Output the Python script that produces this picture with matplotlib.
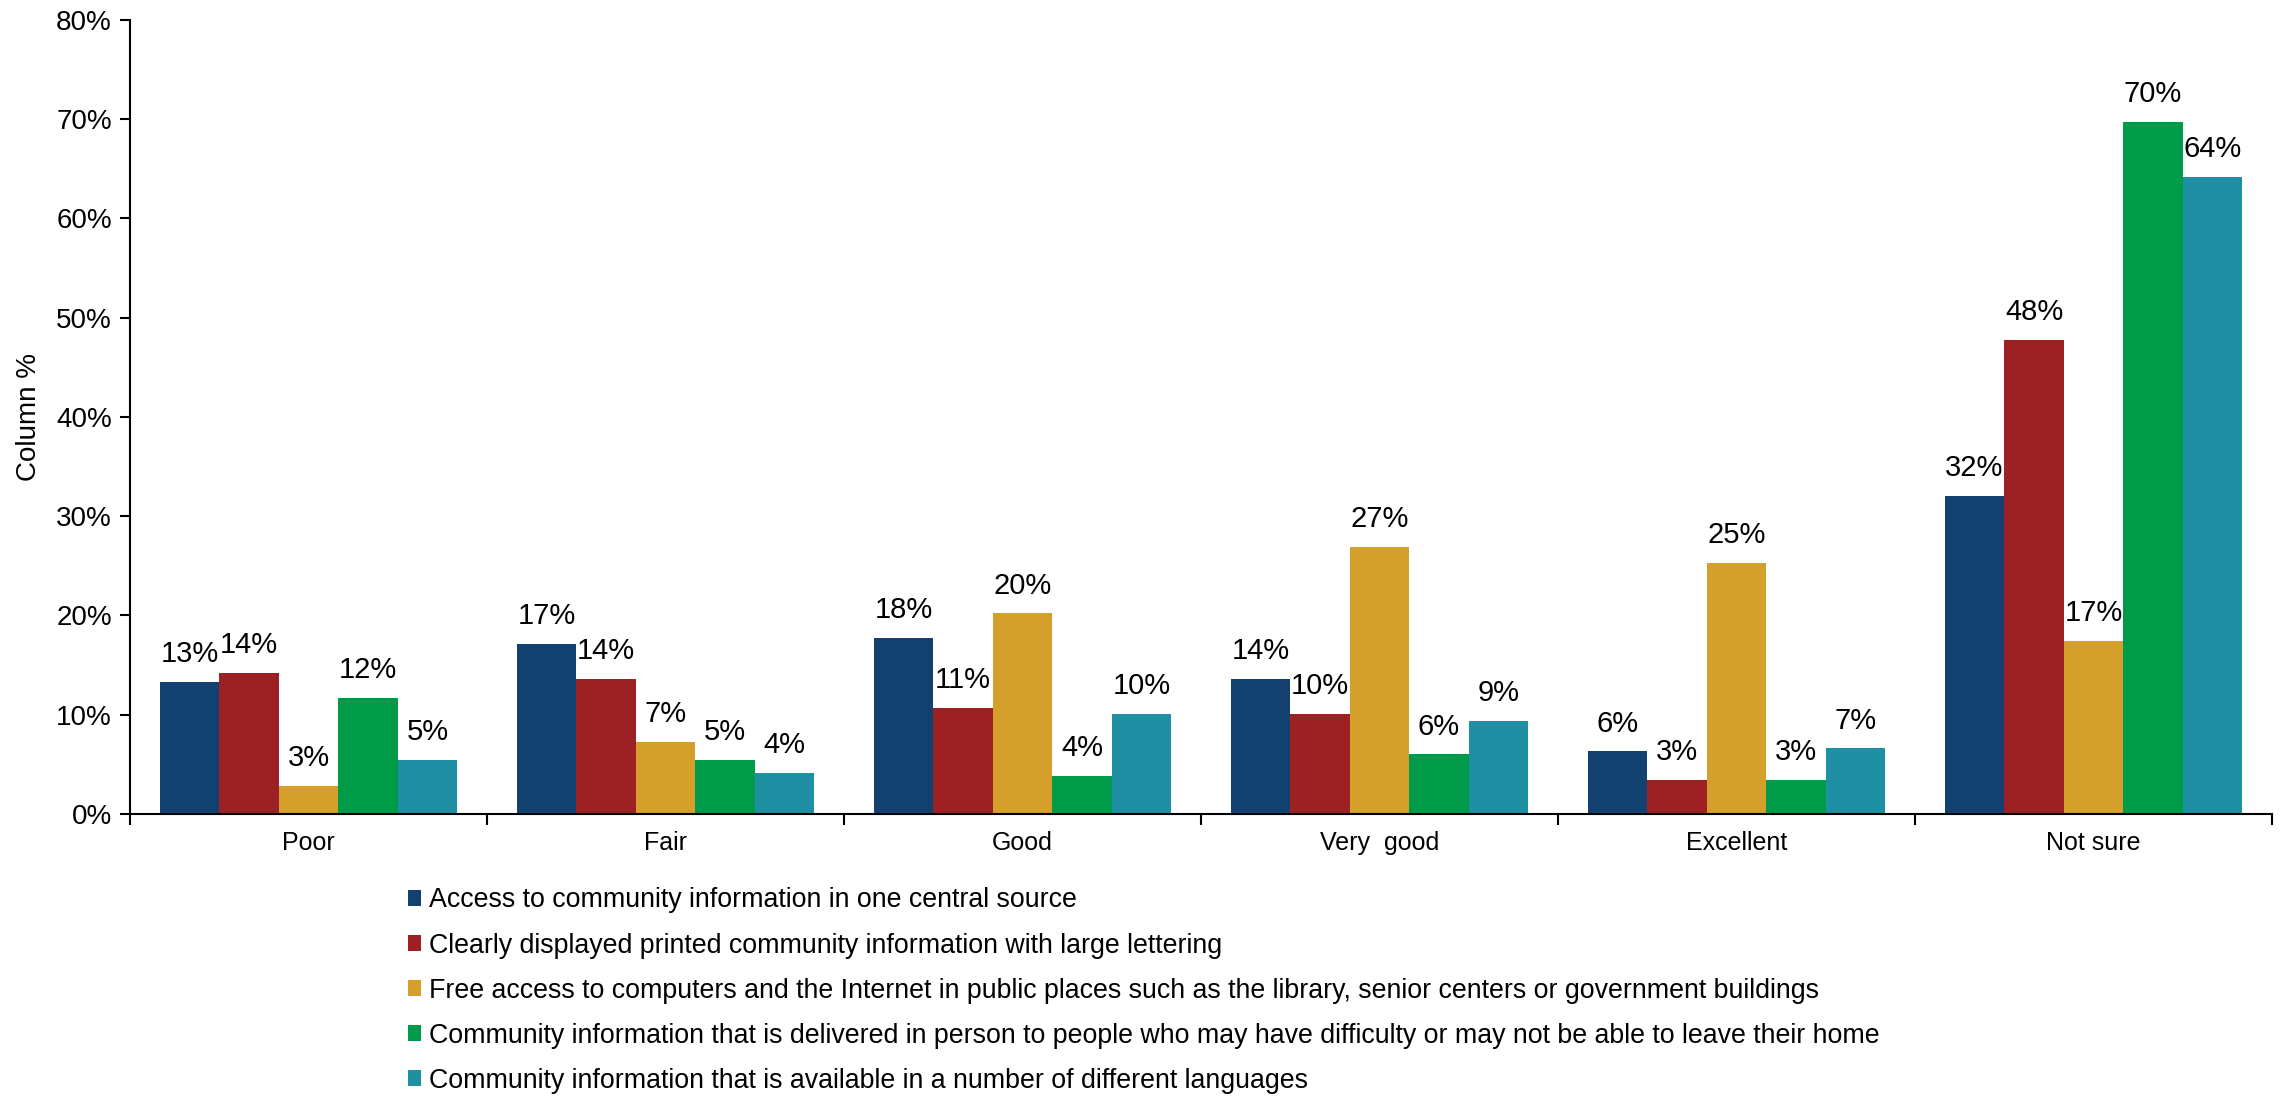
import matplotlib.pyplot as plt
from matplotlib.patches import Patch
import numpy as np

plt.rcParams['font.family'] = ['Liberation Sans', 'DejaVu Sans']

categories = ['Poor', 'Fair', 'Good', 'Very  good', 'Excellent', 'Not sure']
series = [
    'Access to community information in one central source',
    'Clearly displayed printed community information with large lettering',
    'Free access to computers and the Internet in public places such as the library, senior centers or government buildings',
    'Community information that is delivered in person to people who may have difficulty or may not be able to leave their home',
    'Community information that is available in a number of different languages',
]
central = [13.3, 17.1, 17.7, 13.6, 6.3, 32.0]
printed = [14.2, 13.6, 10.7, 10.1, 3.4, 47.8]
computers = [2.8, 7.25, 20.2, 26.9, 25.3, 17.4]
in_person = [11.7, 5.4, 3.8, 6.0, 3.4, 69.7]
languages = [5.4, 4.1, 10.1, 9.4, 6.6, 64.2]
colors = ['#12416F', '#9C2024', '#D4A02B', '#009B48', '#1F90A4']

values = [central, printed, computers, in_person, languages]

fig = plt.figure(figsize=(22.92, 10.97), dpi=100)
ax = fig.add_axes([0.0567, 0.258, 0.9346, 0.7238])

x = np.arange(len(categories))
w = 1 / 6
for i, (vals, c) in enumerate(zip(values, colors)):
    pos = x + (i - 2) * w
    bars = ax.bar(pos, vals, width=w, color=c, edgecolor='none')
    for b, v in zip(bars, vals):
        ax.annotate(f'{round(v):.0f}%', (b.get_x() + b.get_width() / 2, v),
                    xytext=(0, 10), textcoords='offset points',
                    ha='center', va='bottom', fontsize=21)

ax.set_xlim(-0.5, len(categories) - 0.5)
ax.set_ylim(0, 80)
ax.set_yticks(np.arange(0, 81, 10))
ax.set_yticklabels([f'{t}%' for t in range(0, 81, 10)], fontsize=20)
ax.set_xticks(np.arange(-0.5, len(categories), 1))
ax.set_xticklabels([])
ax.set_xticks(x, minor=True)
ax.set_xticklabels(categories, minor=True, fontsize=18)
ax.tick_params(axis='x', which='minor', length=0, pad=12)
ax.tick_params(axis='x', which='major', length=8, width=1.5)
ax.tick_params(axis='y', length=7, width=1.5, pad=6)
ax.set_ylabel('Column %', fontsize=20, labelpad=10)
for s in ['top', 'right']:
    ax.spines[s].set_visible(False)
for s in ['left', 'bottom']:
    ax.spines[s].set_linewidth(1.5)

handles = [Patch(facecolor=c, edgecolor='none') for c in colors]
fig.legend(handles, series, loc='upper left', bbox_to_anchor=(0.178, 0.191),
           frameon=False, fontsize=19.3, handlelength=0.5, handleheight=0.5,
           handletextpad=0.3, labelspacing=0.71, borderpad=0, borderaxespad=0)

fig.savefig('out.png', dpi=100)
